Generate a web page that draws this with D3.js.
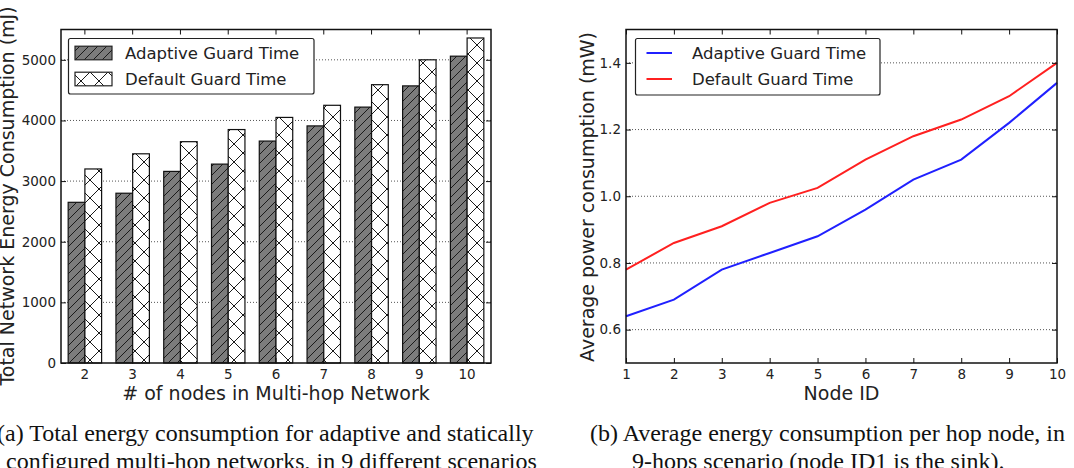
<!DOCTYPE html>
<html>
<head>
<meta charset="utf-8">
<script src="https://cdn.jsdelivr.net/npm/d3@7"></script>
<style>
body { margin: 0; background: #fff; }
svg { display: block; }
text { font-family: "DejaVu Sans", sans-serif; }
.caption { font-family: "Liberation Serif", serif; font-size: 24px; fill: #111; }
</style>
</head>
<body>
<script>
// (a) total energy per scenario
const nodeCounts = ['2', '3', '4', '5', '6', '7', '8', '9', '10'];
const adaptiveEnergy = [2650, 2800, 3160, 3280, 3660, 3910, 4220, 4570, 5060];
const defaultEnergy = [3200, 3450, 3650, 3850, 4050, 4250, 4590, 5000, 5360];
const energyTicks = [0, 1000, 2000, 3000, 4000, 5000];

// (b) average power per node
const nodeIds = [1, 2, 3, 4, 5, 6, 7, 8, 9, 10];
const adaptivePower = [0.64, 0.69, 0.78, 0.83, 0.88, 0.96, 1.05, 1.11, 1.22, 1.34];
const defaultPower = [0.78, 0.86, 0.91, 0.98, 1.025, 1.11, 1.18, 1.23, 1.30, 1.40];
const powerTicks = [0.6, 0.8, 1.0, 1.2, 1.4];

const seriesNames = ['Adaptive Guard Time', 'Default Guard Time'];

const width = 1074;
const height = 468;
const tickFont = '13.5px';
const tickLen = 5;

let svg = d3.select('body')
            .append('svg')
                .attr('width', width)
                .attr('height', height);

// hatch patterns, anchored to the page like matplotlib does
let defs = svg.append('defs');

function addHatch(id, p, fill, cross) {
    let pat = defs.append('pattern')
                    .attr('id', id)
                    .attr('patternUnits', 'userSpaceOnUse')
                    .attr('width', p)
                    .attr('height', p);
    pat.append('rect')
        .attr('width', p)
        .attr('height', p)
        .attr('fill', fill);
    let d = `M0,${p} l${p},${-p} M${-p/4},${p/4} l${p/2},${-p/2} M${3*p/4},${5*p/4} l${p/2},${-p/2}`;
    if (cross) {
        d += ` M0,0 l${p},${p} M${-p/4},${3*p/4} l${p/2},${p/2} M${3*p/4},${-p/4} l${p/2},${p/2}`;
    }
    pat.append('path')
        .attr('d', d)
        .attr('stroke', '#1a1a1a')
        .attr('stroke-width', 1)
        .attr('fill', 'none');
}
addHatch('hatchDiag', 9, '#7c7c7c', false);
addHatch('hatchCross', 18, '#ffffff', true);

// dotted horizontal grid
function drawGrid(x0, x1, yScale, yTicks) {
    svg.append('g')
        .selectAll('line')
        .data(yTicks)
        .enter()
            .append('line')
                .attr('x1', x0)
                .attr('x2', x1)
                .attr('y1', (d) => yScale(d))
                .attr('y2', (d) => yScale(d))
                .attr('stroke', '#555')
                .attr('stroke-width', 1)
                .attr('stroke-dasharray', '1,2');
}

function styleAxis(sel) {
    sel.select('.domain').remove();
    sel.selectAll('line').attr('stroke', '#111').attr('stroke-width', 1);
    sel.selectAll('text')
        .attr('fill', '#222')
        .style('font-size', tickFont);
}

function drawAxes(x0, x1, y0, y1, xAxisGen, xTopGen, yScale, yTicks, yFmt) {
    // left
    svg.append('g')
        .attr('transform', `translate(${x0},0)`)
        .call(d3.axisLeft(yScale).tickValues(yTicks).tickFormat(yFmt).tickSize(-tickLen).tickPadding(5))
        .call(styleAxis);
    // right
    svg.append('g')
        .attr('transform', `translate(${x1},0)`)
        .call(d3.axisRight(yScale).tickValues(yTicks).tickFormat('').tickSize(-tickLen))
        .call(styleAxis);
    // bottom
    svg.append('g')
        .attr('transform', `translate(0,${y1})`)
        .call(xAxisGen.tickSize(-tickLen).tickPadding(6))
        .call(styleAxis);
    // top
    svg.append('g')
        .attr('transform', `translate(0,${y0})`)
        .call(xTopGen.tickSize(-tickLen).tickFormat(''))
        .call(styleAxis);
    // frame
    svg.append('rect')
        .attr('x', x0)
        .attr('y', y0)
        .attr('width', x1 - x0)
        .attr('height', y1 - y0)
        .attr('fill', 'none')
        .attr('stroke', '#111')
        .attr('stroke-width', 1.5);
}

function drawLegend(x, y, w, h, sample) {
    svg.append('rect')
        .attr('x', x)
        .attr('y', y)
        .attr('width', w)
        .attr('height', h)
        .attr('rx', 2)
        .attr('fill', '#fff')
        .attr('stroke', '#222')
        .attr('stroke-width', 1.2);
    seriesNames.forEach((name, i) => {
        let cy = y + 14.5 + i * 26;
        sample(cy, i);
        svg.append('text')
            .attr('x', x + 56.5)
            .attr('y', cy)
            .attr('dominant-baseline', 'central')
            .attr('fill', '#222')
            .style('font-size', '16.5px')
            .text(name);
    });
}

// ---------- panel (a): grouped bars ----------
const aLeft = 61, aRight = 491, plotTop = 29.5, plotBottom = 363;

const xBand = d3.scaleBand()
                .domain(nodeCounts)
                .range([aLeft, aRight])
                .paddingInner(0.3)
                .paddingOuter(0.15);

const xSeries = d3.scaleBand()
                .domain([0, 1])
                .range([0, xBand.bandwidth()]);

const yEnergy = d3.scaleLinear()
                .domain([0, 5500])
                .range([plotBottom, plotTop]);

drawGrid(aLeft, aRight, yEnergy, energyTicks.slice(1));

const barRows = nodeCounts.map((n, i) => [
    {n: n, s: 0, v: adaptiveEnergy[i]},
    {n: n, s: 1, v: defaultEnergy[i]}
]).flat();

svg.append('g')
    .selectAll('rect')
    .data(barRows)
    .enter()
        .append('rect')
            .attr('x', (d) => xBand(d.n) + xSeries(d.s))
            .attr('y', (d) => yEnergy(d.v))
            .attr('width', xSeries.bandwidth())
            .attr('height', (d) => yEnergy(0) - yEnergy(d.v))
            .attr('fill', (d) => d.s == 0 ? 'url(#hatchDiag)' : 'url(#hatchCross)')
            .attr('stroke', '#111')
            .attr('stroke-width', 1.2);

drawAxes(aLeft, aRight, plotTop, plotBottom,
    d3.axisBottom(xBand), d3.axisTop(xBand),
    yEnergy, energyTicks, d3.format('d'));

drawLegend(68.5, 38.5, 245.5, 55.5, function(cy, i) {
    svg.append('rect')
        .attr('x', 75)
        .attr('y', cy - 6.8)
        .attr('width', 37)
        .attr('height', 13.6)
        .attr('fill', i == 0 ? 'url(#hatchDiag)' : 'url(#hatchCross)')
        .attr('stroke', '#222')
        .attr('stroke-width', 1.2);
});

svg.append('text')
    .attr('transform', `translate(7,196) rotate(-90)`)
    .attr('text-anchor', 'middle')
    .attr('dominant-baseline', 'central')
    .attr('fill', '#222')
    .style('font-size', '19px')
    .text('Total Network Energy Consumption (mJ)');

svg.append('text')
    .attr('x', (aLeft + aRight) / 2)
    .attr('y', 400)
    .attr('text-anchor', 'middle')
    .attr('fill', '#222')
    .style('font-size', '19px')
    .text('# of nodes in Multi-hop Network');

// ---------- panel (b): lines ----------
const bLeft = 626, bRight = 1057;

const xNode = d3.scaleLinear()
                .domain([1, 10])
                .range([bLeft, bRight]);

const yPower = d3.scaleLinear()
                .domain([0.5, 1.5])
                .range([plotBottom, plotTop]);

drawGrid(bLeft, bRight, yPower, powerTicks);

const line = d3.line()
                .x((d, i) => xNode(nodeIds[i]))
                .y((d) => yPower(d));

const lineColours = ['#2020ff', '#ff2020'];

[adaptivePower, defaultPower].forEach((series, i) => {
    svg.append('path')
        .datum(series)
        .attr('d', line)
        .attr('fill', 'none')
        .attr('stroke', lineColours[i])
        .attr('stroke-width', 2);
});

drawAxes(bLeft, bRight, plotTop, plotBottom,
    d3.axisBottom(xNode).tickValues(nodeIds).tickFormat(d3.format('d')),
    d3.axisTop(xNode).tickValues(nodeIds),
    yPower, powerTicks, d3.format('.1f'));

drawLegend(635.5, 38.5, 244.5, 56.5, function(cy, i) {
    svg.append('line')
        .attr('x1', 646.5)
        .attr('x2', 672)
        .attr('y1', cy)
        .attr('y2', cy)
        .attr('stroke', lineColours[i])
        .attr('stroke-width', 2);
});

svg.append('text')
    .attr('transform', `translate(587,197) rotate(-90)`)
    .attr('text-anchor', 'middle')
    .attr('dominant-baseline', 'central')
    .attr('fill', '#222')
    .style('font-size', '19px')
    .text('Average power consumption (mW)');

svg.append('text')
    .attr('x', (bLeft + bRight) / 2)
    .attr('y', 400)
    .attr('text-anchor', 'middle')
    .attr('fill', '#222')
    .style('font-size', '19px')
    .text('Node ID');

// ---------- captions ----------
svg.append('text')
    .attr('class', 'caption')
    .attr('x', -3)
    .attr('y', 441)
    .text('(a) Total energy consumption for adaptive and statically');
svg.append('text')
    .attr('class', 'caption')
    .attr('x', 6)
    .attr('y', 469)
    .text('configured multi-hop networks, in 9 different scenarios');
svg.append('text')
    .attr('class', 'caption')
    .attr('x', 590)
    .attr('y', 441)
    .text('(b) Average energy consumption per hop node, in');
svg.append('text')
    .attr('class', 'caption')
    .attr('x', 632)
    .attr('y', 469)
    .text('9-hops scenario (node ID1 is the sink).');
</script>
</body>
</html>
